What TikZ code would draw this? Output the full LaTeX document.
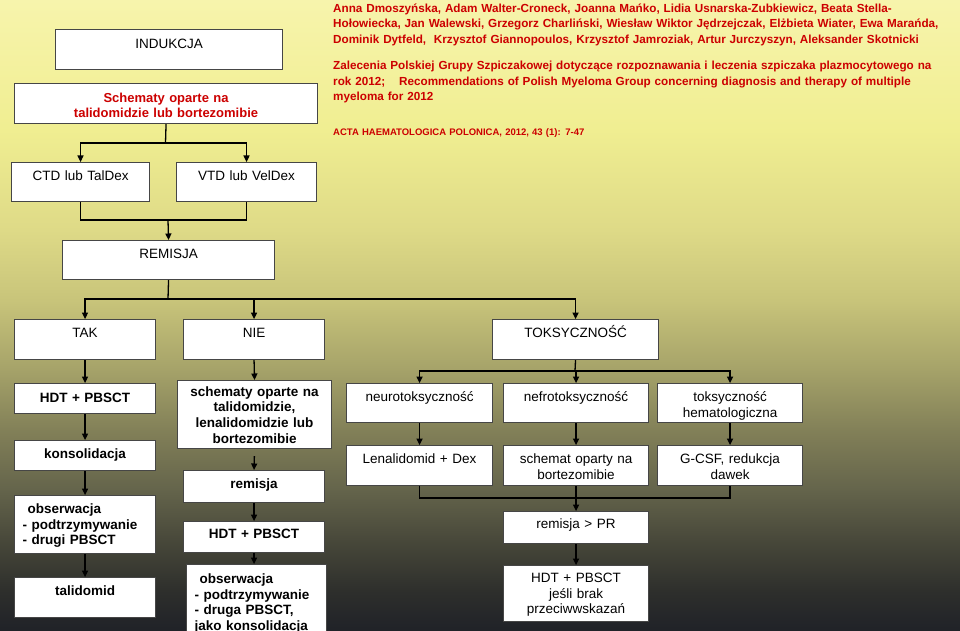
\documentclass[tikz,border=0pt]{standalone}
\usepackage{fontspec}
\setmainfont{Liberation Sans}
\usetikzlibrary{arrows.meta}
\definecolor{redtx}{RGB}{204,0,0}
\definecolor{boxgray}{RGB}{70,70,70}
\definecolor{g0}{RGB}{247,244,172}
\definecolor{g1}{RGB}{240,238,145}
\definecolor{g2}{RGB}{222,218,135}
\definecolor{g3}{RGB}{200,196,122}
\definecolor{g4}{RGB}{165,162,105}
\definecolor{g5}{RGB}{130,128,88}
\definecolor{g6}{RGB}{100,100,75}
\definecolor{g7}{RGB}{72,72,58}
\definecolor{g8}{RGB}{46,47,44}
\definecolor{g9}{RGB}{32,34,40}
\tikzset{
  box/.style={draw=boxgray, line width=1.1pt, fill=white, rectangle, inner xsep=0pt, inner ysep=0pt,
    align=center, anchor=north west, font=\fontsize{13.5}{15.7}\selectfont},
  boldbox/.style={box, font=\fontsize{13.5}{15.7}\selectfont\bfseries},
  dims/.style n args={3}{text width=#1pt, text height=#2pt, text depth=#3pt},
  conn/.style={line width=1.3pt, black},
  arr/.style={conn, -{Triangle[length=6.5pt,width=6pt]}},
  redtext/.style={text=redtx, font=\fontsize{11.7}{15.5}\selectfont\bfseries, align=left,
    anchor=north west, inner sep=0pt, text height=12pt, text width=700pt},
}
\begin{document}
\begin{tikzpicture}[x=1pt,y=-1pt]
\useasboundingbox (0,0) rectangle (960,631);
\clip (0,0) rectangle (960,631);
% background gradient
\shade[top color=g0, bottom color=g1] (0,0) rectangle (960,130.5);
\shade[top color=g1, bottom color=g2] (0,130) rectangle (960,230.5);
\shade[top color=g2, bottom color=g3] (0,230) rectangle (960,300.5);
\shade[top color=g3, bottom color=g4] (0,300) rectangle (960,370.5);
\shade[top color=g4, bottom color=g5] (0,370) rectangle (960,430.5);
\shade[top color=g5, bottom color=g6] (0,430) rectangle (960,490.5);
\shade[top color=g6, bottom color=g7] (0,490) rectangle (960,540.5);
\shade[top color=g7, bottom color=g8] (0,540) rectangle (960,590.5);
\shade[top color=g8, bottom color=g9] (0,590) rectangle (960,631);

% right header text
\node[redtext] (auth) at (333,0) {Anna Dmoszyńska, Adam Walter-Croneck, Joanna Mańko, Lidia Usnarska-Zubkiewicz, Beata Stella-\\Hołowiecka, Jan Walewski, Grzegorz Charliński, Wiesław Wiktor Jędrzejczak, Elżbieta Wiater, Ewa Marańda,\\Dominik Dytfeld,\ \ Krzysztof Giannopoulos, Krzysztof Jamroziak, Artur Jurczyszyn, Aleksander Skotnicki};
\node[redtext] (title) at (333,57.5) {Zalecenia Polskiej Grupy Szpiczakowej dotyczące rozpoznawania i leczenia szpiczaka plazmocytowego na\\rok 2012;\hspace{14pt}Recommendations of Polish Myeloma Group concerning diagnosis and therapy of multiple\\myeloma for 2012};
\node[redtext, font=\fontsize{9.5}{11}\selectfont\bfseries, text height=9pt] (journal) at (333,126) {ACTA HAEMATOLOGICA POLONICA, 2012, 43 (1): 7-47};

% top boxes
\node[box, dims={227}{19}{21}] (ind) at (55,29) {INDUKCJA};
\node[box, dims={303}{19}{21}, text=redtx, font=\fontsize{13}{15}\selectfont\bfseries] (sch) at (14,83) {Schematy oparte na\\talidomidzie lub bortezomibie};
\node[box, dims={138}{17.5}{21.5}] (ctd) at (11,162) {CTD lub TalDex};
\node[box, dims={140}{17.5}{21.5}] (vtd) at (176,162) {VTD lub VelDex};
\node[box, dims={212}{18}{21}] (rem) at (62,240) {REMISJA};
\node[box, dims={141}{18}{22}] (tak) at (14,319) {TAK};
\node[box, dims={141}{18}{22}] (nie) at (183,319) {NIE};
\node[box, dims={166}{18}{22}] (tox) at (492,319) {TOKSYCZNOŚĆ};

% left column (TAK)
\node[boldbox, dims={141}{18.5}{11.5}] (hdta) at (14,383) {HDT + PBSCT};
\node[boldbox, dims={141}{18}{12}] (kons) at (14,440) {konsolidacja};
\node[boldbox, dims={141}{18}{40}, align=left] (obsa) at (14,495) {\hspace*{13pt}obserwacja\\\hspace*{8pt}- podtrzymywanie\\\hspace*{8pt}- drugi PBSCT};
\node[boldbox, dims={141}{18}{22}] (tal) at (14,577) {talidomid};

% middle column (NIE)
\node[boldbox, dims={154}{15.5}{52.5}] (schb) at (177,380) {schematy oparte na\\talidomidzie,\\lenalidomidzie lub\\bortezomibie};
\node[boldbox, dims={141}{18}{14}] (remb) at (183,470) {remisja};
\node[boldbox, dims={141}{17}{14}] (hdtb) at (183,521) {HDT + PBSCT};
\node[boldbox, dims={140}{19}{61}, align=left] (obsb) at (186,564) {\hspace*{13pt}obserwacja\\\hspace*{8pt}- podtrzymywanie\\\hspace*{8pt}- druga PBSCT,\\\hspace*{8pt}jako konsolidacja};

% right block (TOKSYCZNOSC)
\node[box, dims={146}{18}{21}] (neu) at (346,383) {neurotoksyczność};
\node[box, dims={145}{18}{21}] (nef) at (503,383) {nefrotoksyczność};
\node[box, dims={145}{18}{21}] (hem) at (657,383) {toksyczność\\hematologiczna};
\node[box, dims={146}{18}{22}] (len) at (346,445) {Lenalidomid + Dex};
\node[box, dims={145}{18}{22}] (bor) at (503,445) {schemat oparty na\\bortezomibie};
\node[box, dims={145}{18}{22}] (gcsf) at (657,445) {G-CSF, redukcja\\dawek};
\node[box, dims={145}{17}{15}] (rpr) at (503,511) {remisja > PR};
\node[box, dims={145}{17}{39}] (hdtc) at (503,565) {HDT + PBSCT\\jeśli brak\\przeciwwskazań};

% junction points
\coordinate (j1) at (165.5,143);
\coordinate (j2) at (168,220);
\coordinate (j3) at (168,299);
\coordinate (j4) at (575,371);
\coordinate (j5) at (575.5,498);

% connectors
\draw[conn] (sch.south) -- (j1);
\draw[arr] (j1) -| (ctd.north);
\draw[arr] (j1) -| (vtd.north);
\draw[conn] (ctd.south) |- (j2);
\draw[conn] (vtd.south) |- (j2);
\draw[arr] (j2) -- (rem.north);
\draw[conn] (rem.south) -- (j3);
\draw[arr] (j3) -| (tak.north);
\draw[arr] (j3) -| (nie.north);
\draw[arr] (j3) -| (tox.north);

\draw[arr] (tak.south) -- (hdta.north);
\draw[arr] (hdta.south) -- (kons.north);
\draw[arr] (kons.south) -- (obsa.north);
\draw[arr] (obsa.south) -- (tal.north);

\draw[arr] (nie.south) -- (schb.north);
\draw[arr, shorten <=7pt] (schb.south) -- (remb.north);
\draw[arr] (remb.south) -- (hdtb.north);
\draw[arr] (hdtb.south) -- (hdtb.south |- obsb.north);

\draw[conn] (tox.south) -- (j4);
\draw[arr] (j4) -| (neu.north);
\draw[arr] (j4) -| (nef.north);
\draw[arr] (j4) -| (hem.north);
\draw[arr] (neu.south) -- (len.north);
\draw[arr] (nef.south) -- (bor.north);
\draw[arr] (hem.south) -- (gcsf.north);
\draw[conn] (len.south) |- (j5);
\draw[conn] (gcsf.south) |- (j5);
\draw[arr] (bor.south) -- (rpr.north);
\draw[arr] (rpr.south) -- (hdtc.north);
\end{tikzpicture}
\end{document}
